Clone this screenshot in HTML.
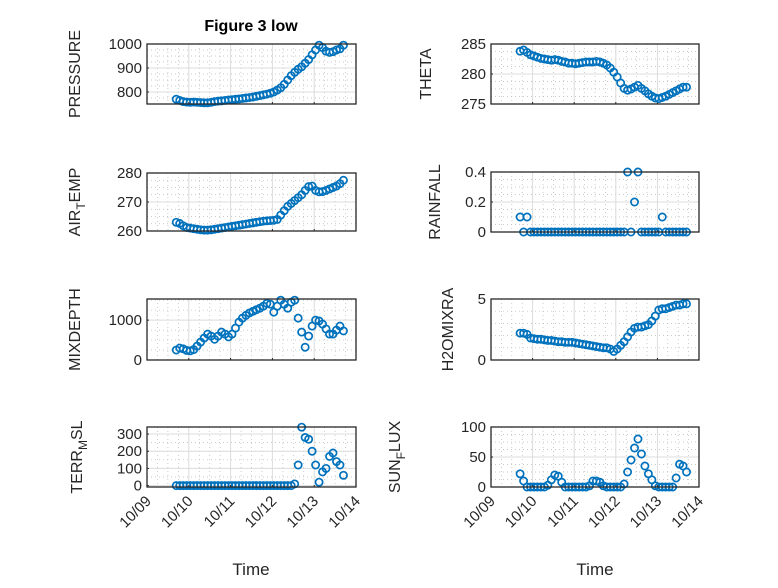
<!DOCTYPE html>
<html><head><meta charset="utf-8"><style>
body{margin:0;background:#fff}
svg{font-family:"Liberation Sans","DejaVu Sans",sans-serif}
</style></head><body>
<svg id="fig" width="778" height="583" viewBox="0 0 778 583" xmlns="http://www.w3.org/2000/svg">
<rect width="778" height="583" fill="#fff"/>
<text x="251" y="31" text-anchor="middle" font-size="16" font-weight="bold" fill="#000">Figure 3 low</text>
<text x="251" y="575" text-anchor="middle" font-size="17" fill="#262626">Time</text>
<text x="595" y="575" text-anchor="middle" font-size="17" fill="#262626">Time</text>
</svg>
<script>
const dayTicks = ["10/09","10/10","10/11","10/12","10/13","10/14"];
const nPts = 49;
const tStart = 0.7, tStep = 1/12;
const pressure = [770,765,760,758,757,758,757,756,755,755,757,760,762,763,765,767,768,770,771,773,775,777,779,782,785,788,791,795,800,808,818,832,850,868,882,895,905,920,935,955,975,995,985,970,965,968,975,980,995];
const theta = [283.8,284,283.6,283.2,283,282.8,282.6,282.5,282.4,282.3,282.4,282.3,282.1,282,281.8,281.8,281.7,281.8,281.9,282,282,282,282.1,282,281.8,281.5,281,280.3,279.5,278.5,277.6,277.3,277.5,277.8,278.1,277.6,277.2,276.7,276.3,276,275.9,276.1,276.3,276.6,276.9,277.2,277.5,277.8,277.8];
const airTemp = [263,262.6,261.8,261.2,261,260.8,260.6,260.4,260.3,260.3,260.4,260.6,260.8,261,261.2,261.4,261.6,261.8,262,262.2,262.4,262.6,262.8,263,263.2,263.4,263.5,263.6,263.7,264,265.5,267,268.5,269.5,270.5,271.5,272.5,274,275.3,275.5,274,273.5,273.6,274,274.5,275,275.5,276.3,277.5];
const rainfall = [0.1,0,0.1,0,0,0,0,0,0,0,0,0,0,0,0,0,0,0,0,0,0,0,0,0,0,0,0,0,0,0,0,0.4,0,0.2,0.4,0,0,0,0,0,0,0.1,0,0,0,0,0,0,0];
const mixDepth = [250,300,280,240,230,260,350,450,550,650,600,520,600,700,650,580,650,800,950,1050,1120,1180,1220,1260,1300,1350,1420,1400,1200,1350,1500,1400,1300,1450,1500,1050,700,320,600,850,1000,980,900,780,650,650,750,850,730];
const h2o = [2.2,2.2,2.1,1.8,1.75,1.7,1.7,1.65,1.6,1.6,1.55,1.5,1.5,1.45,1.45,1.45,1.4,1.35,1.3,1.25,1.2,1.15,1.1,1.05,1.0,1.0,0.9,0.7,0.9,1.2,1.5,1.9,2.3,2.6,2.7,2.7,2.8,2.9,3.2,3.6,4.1,4.2,4.2,4.3,4.4,4.5,4.5,4.6,4.6];
const terr = [0,0,0,0,0,0,0,0,0,0,0,0,0,0,0,0,0,0,0,0,0,0,0,0,0,0,0,0,0,0,0,0,0,0,10,120,340,280,270,200,120,20,80,100,170,190,140,120,60];
const sunFlux = [22,10,0,0,0,0,0,0,3,12,20,18,8,0,0,0,0,0,0,0,2,10,10,8,2,0,0,0,0,0,5,25,45,65,80,55,35,22,12,2,0,0,0,0,0,15,38,35,25];

const NS="http://www.w3.org/2000/svg";
const svg=document.getElementById('fig');
function mk(tag,attrs,parent){const e=document.createElementNS(NS,tag);for(const k in attrs)e.setAttribute(k,attrs[k]);(parent||svg).appendChild(e);return e;}

const panels=[
 {name:'pressure',data:pressure,x0:147,x1:356,y0:44,y1:104,ymin:750,ymax:1000,ticks:[800,900,1000],label:['PRESSURE'],lx:80},
 {name:'theta',data:theta,x0:491,x1:699,y0:44,y1:104,ymin:275,ymax:285,ticks:[275,280,285],label:['THETA'],lx:431},
 {name:'air-temp',data:airTemp,x0:147,x1:356,y0:173,y1:231,ymin:260,ymax:280,ticks:[260,270,280],label:['AIR','T','EMP'],lx:80},
 {name:'rainfall',data:rainfall,x0:491,x1:699,y0:172,y1:232,ymin:0,ymax:0.4,ticks:[0,0.2,0.4],label:['RAINFALL'],lx:440},
 {name:'mixdepth',data:mixDepth,x0:147,x1:356,y0:299,y1:360,ymin:0,ymax:1530,ticks:[0,1000],minorStep:250,label:['MIXDEPTH'],lx:80},
 {name:'h2omixra',data:h2o,x0:491,x1:699,y0:299,y1:360,ymin:0,ymax:5,ticks:[0,5],minorStep:1,label:['H2OMIXRA'],lx:453},
 {name:'terr-msl',data:terr,x0:147,x1:356,y0:427,y1:487,ymin:-8,ymax:341,ticks:[0,100,200,300],minorStep:50,label:['TERR','M','SL'],lx:82,xt:true},
 {name:'sun-flux',data:sunFlux,x0:491,x1:699,y0:427,y1:487,ymin:0,ymax:100,ticks:[0,50,100],minorStep:12.5,label:['SUN','F','LUX'],lx:400,xt:true},
];

panels.forEach(p=>{
  const g=mk('g',{});
  
  
  const xs=d=>p.x0+(d/5)*(p.x1-p.x0);
  const ys=v=>p.y1-(v-p.ymin)/(p.ymax-p.ymin)*(p.y1-p.y0);
  for(let m=0;m<20;m++){ if(m%4===0)continue; const x=xs(m/4);
    const l=mk('line',{x1:x,x2:x,y1:p.y0,y2:p.y1,stroke:'#b8b8b8','stroke-width':0.7,'stroke-dasharray':'1,3'},g);
    }
  const step=p.minorStep||(p.ticks[1]-p.ticks[0])/4;
  for(let v=Math.ceil(p.ymin/step)*step; v<=p.ymax+1e-9; v+=step){ const y=ys(v);
    const l=mk('line',{x1:p.x0,x2:p.x1,y1:y,y2:y,stroke:'#b8b8b8','stroke-width':0.7,'stroke-dasharray':'1,3'},g);
    }
  for(let d=1;d<5;d++){const x=xs(d);
    const l=mk('line',{x1:x,x2:x,y1:p.y0,y2:p.y1,stroke:'#dcdcdc','stroke-width':1},g);
    }
  p.ticks.forEach(v=>{const y=ys(v);
    const l=mk('line',{x1:p.x0,x2:p.x1,y1:y,y2:y,stroke:'#dcdcdc','stroke-width':1},g);
    
    const t=mk('text',{x:p.x0-5,y:y+5,'text-anchor':'end','font-size':15,fill:'#262626'},g);
    t.textContent=String(v);
    
    mk('line',{x1:p.x0,x2:p.x0+2,y1:y,y2:y,stroke:'#262626'},g);
  });
  for(let d=0;d<=5;d++){const x=xs(d);
    mk('line',{x1:x,x2:x,y1:p.y1,y2:p.y1-2,stroke:'#262626'},g);
    if(p.xt){const t=mk('text',{x:x+5,y:p.y1+15,'text-anchor':'end','font-size':15,fill:'#262626',transform:`rotate(-45 ${x+5} ${p.y1+15})`},g);
      t.textContent=dayTicks[d];
      }
  }
  for(let i=0;i<nPts;i++){
    const c=mk('circle',{cx:xs(tStart+i*tStep),cy:ys(p.data[i]),r:3.6,fill:'none',stroke:'#0072bd','stroke-width':1.7},g);
    
    
  }
  const b=mk('rect',{x:p.x0,y:p.y0,width:p.x1-p.x0,height:p.y1-p.y0,fill:'none',stroke:'#262626','stroke-width':1.3},g);
  
  const cy=(p.y0+p.y1)/2;
  const t=mk('text',{x:p.lx,y:cy,'text-anchor':'middle','font-size':16,fill:'#262626',transform:`rotate(-90 ${p.lx} ${cy})`},g);
  
  if(p.label.length===1){t.textContent=p.label[0];}
  else{
    const a=mk('tspan',{},t);a.textContent=p.label[0];
    const s=mk('tspan',{dy:5,'font-size':12},t);s.textContent=p.label[1];
    const r=mk('tspan',{dy:-5},t);r.textContent=p.label[2];
  }
});
</script>
</body></html>
